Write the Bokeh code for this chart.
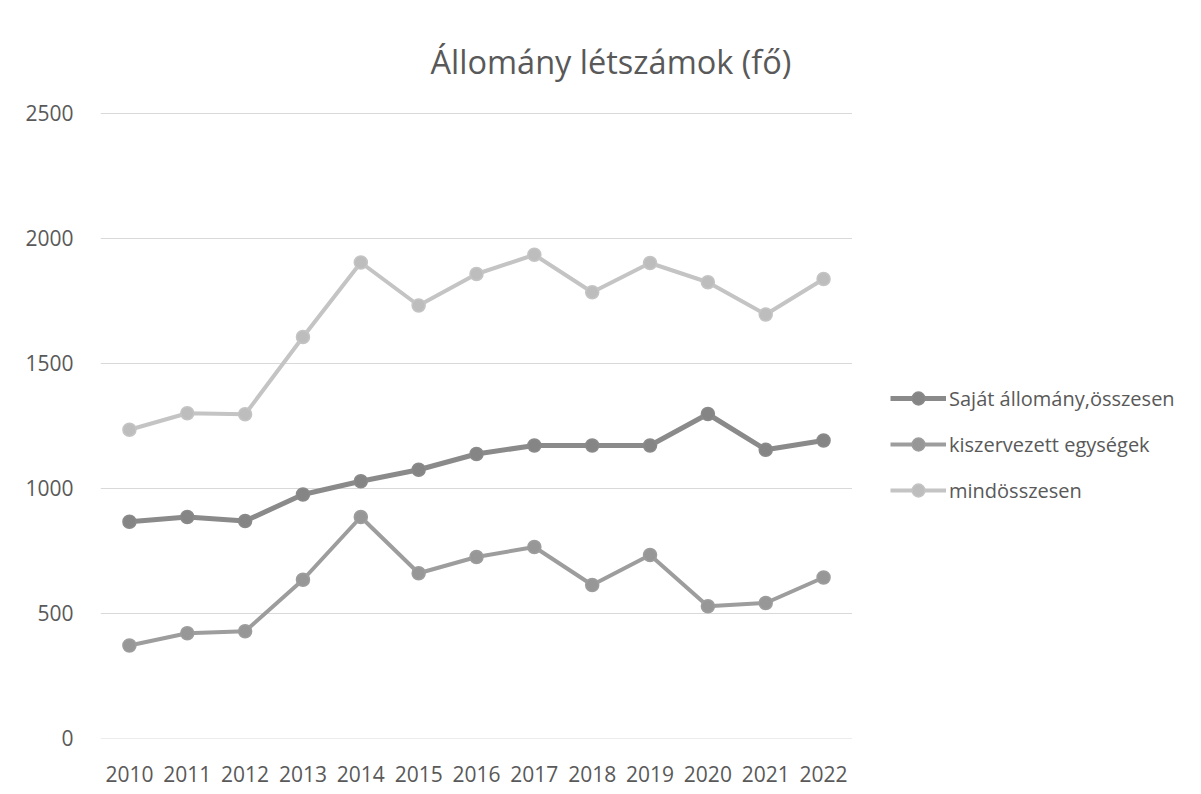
from bokeh.plotting import figure
from bokeh.layouts import row
from bokeh.models import ColumnDataSource, Legend, LegendItem, Title, FixedTicker, Range1d
from bokeh.embed import file_html
from bokeh.resources import INLINE

years = [2010, 2011, 2012, 2013, 2014, 2015, 2016, 2017, 2018, 2019, 2020, 2021, 2022]
sajat = [865, 884, 868, 974, 1027, 1073, 1136, 1170, 1170, 1170, 1296, 1153, 1190]
kiszervezett = [370, 419, 427, 633, 884, 659, 724, 764, 612, 732, 527, 540, 642]
mindosszesen = [1233, 1299, 1295, 1604, 1902, 1730, 1856, 1933, 1783, 1900, 1823, 1694, 1836]
y_ticks = [0, 500, 1000, 1500, 2000, 2500]

series_names = ["Saját állomány,összesen", "kiszervezett egységek", "mindösszesen"]
line_colors = ["#8a8a8a", "#9d9d9d", "#c4c4c4"]
marker_colors = ["#858585", "#979797", "#bdbdbd"]
line_widths = [5, 4, 4]

FONT = "Open Sans"
TXT = "#595959"

# main chart
p = figure(width=852, height=794, output_backend="svg", toolbar_location=None,
           x_range=Range1d(2009.5, 2022.5), y_range=Range1d(-2, 2502),
           min_border_left=100, min_border_right=0, min_border_top=112, min_border_bottom=56)
p.outline_line_color = None
p.background_fill_color = "white"
p.border_fill_color = "white"

p.xgrid.grid_line_color = None
p.ygrid.grid_line_color = "#d9d9d9"
p.ygrid.grid_line_width = 1

p.xaxis.ticker = FixedTicker(ticks=years)
p.yaxis.ticker = FixedTicker(ticks=y_ticks)
for ax in (p.xaxis[0], p.yaxis[0]):
    ax.axis_line_color = None
    ax.major_tick_line_color = None
    ax.minor_tick_line_color = None
    ax.major_label_text_font = FONT
    ax.major_label_text_font_size = "21px"
    ax.major_label_text_color = TXT
p.xaxis.major_label_standoff = 21
p.yaxis.major_label_standoff = 21

# legend panel (separate canvas on the right)
p2 = figure(width=349, height=794, output_backend="svg", toolbar_location=None,
            x_axis_location=None, y_axis_location=None,
            x_range=Range1d(2009.5, 2022.5), y_range=Range1d(-2, 2502),
            min_border_left=0, min_border_right=0, min_border_top=0, min_border_bottom=0)
p2.outline_line_color = None
p2.grid.grid_line_color = None
p2.border_fill_color = "white"
p2.background_fill_color = "white"

items = []
for name, vals, lc, mc, lw in zip(series_names, [sajat, kiszervezett, mindosszesen],
                                  line_colors, marker_colors, line_widths):
    src = ColumnDataSource(dict(x=years, y=vals))
    p.line("x", "y", source=src, line_color=lc, line_width=lw, line_join="round")
    p.scatter("x", "y", source=src, size=13, fill_color=mc, line_color=lc, line_width=1.5)
    # legend-only renderers (hidden) so the legend samples get the series styles
    l1 = p2.line("x", "y", source=src, line_color=lc, line_width=lw, visible=False)
    l2 = p2.scatter("x", "y", source=src, size=13, fill_color=mc, line_color=lc,
                    line_width=1.5, visible=False)
    items.append(LegendItem(label=name, renderers=[l1, l2]))

legend = Legend(items=items, location=(38, 232), orientation="vertical",
                glyph_width=56, glyph_height=32, label_height=20, spacing=14,
                label_standoff=3, padding=0, margin=0,
                inactive_fill_alpha=0,
                border_line_color=None, background_fill_alpha=0,
                label_text_font=FONT, label_text_font_size="20px", label_text_color=TXT)
p2.add_layout(legend, "center")

title = Title(text="Állomány létszámok (fő)", align="left", offset=330, vertical_align="top",
              standoff=54,
              text_font=FONT, text_font_size="32.5px", text_color=TXT, text_font_style="normal")
p.add_layout(title, "above")

open("out.html", "w").write(file_html(row(p, p2), INLINE))
